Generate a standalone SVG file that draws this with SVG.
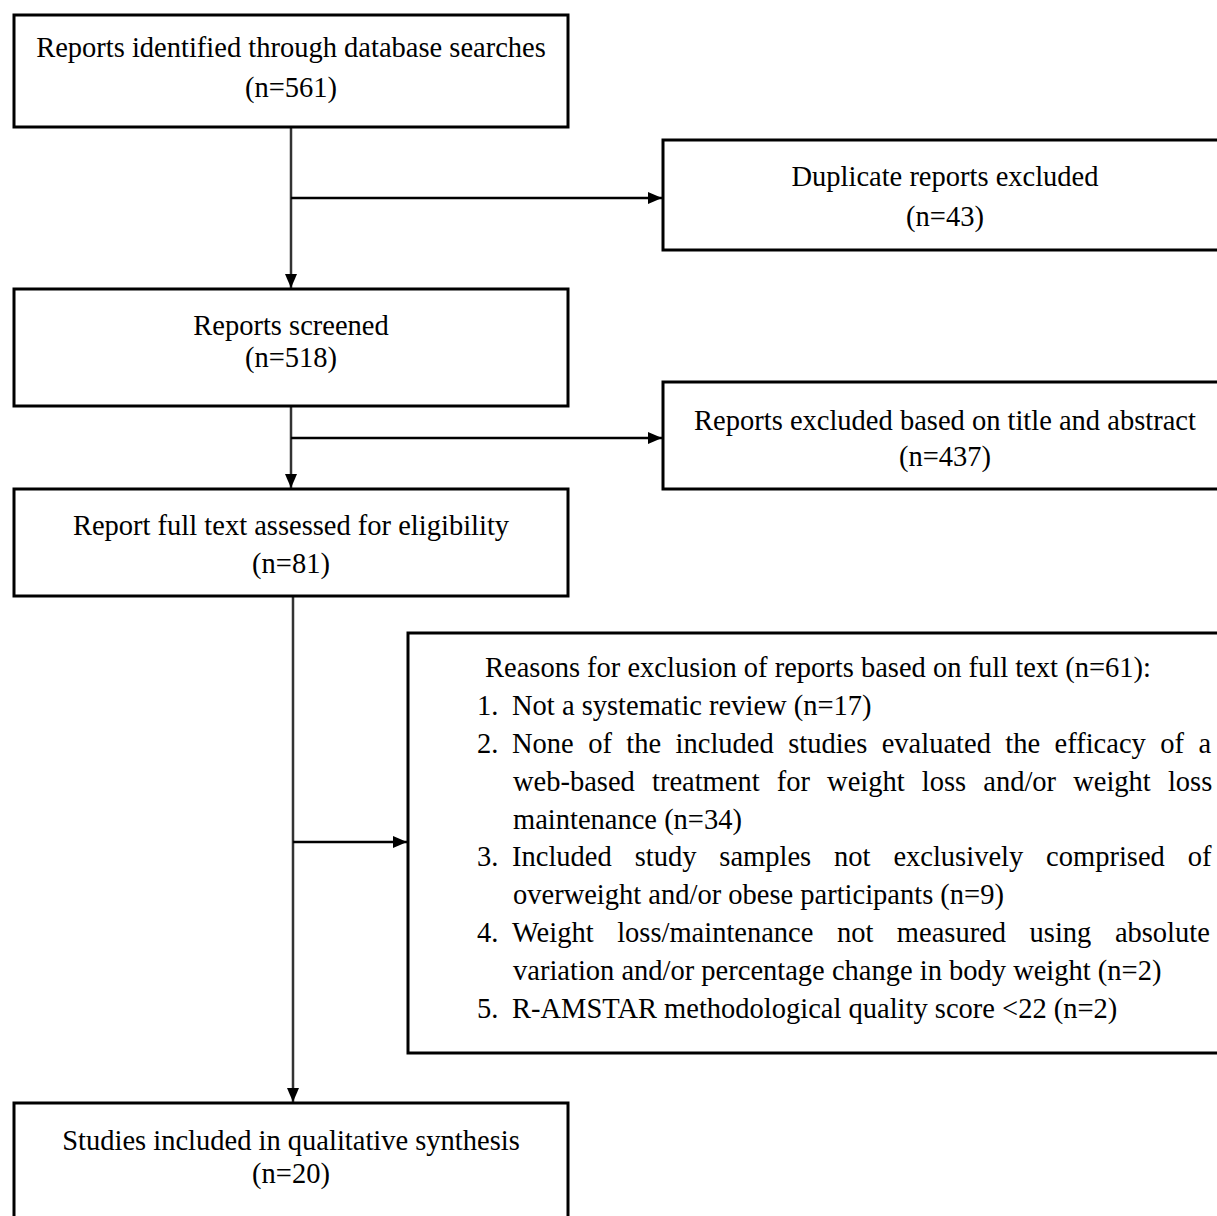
<svg xmlns="http://www.w3.org/2000/svg" width="1217" height="1216" viewBox="0 0 1217 1216">
<style>
  .box { fill: #ffffff; stroke: #000000; stroke-width: 3; }
  .t { font-family: "Liberation Serif", "Times New Roman", serif; font-size: 28.5px; fill: #000000; }
  .c { text-anchor: middle; }
  .trunk { stroke: #333333; stroke-width: 2.5; fill: none; }
  .branch { stroke: #000000; stroke-width: 2.5; fill: none; }
</style>
<defs>
  <marker id="arr" markerUnits="userSpaceOnUse" markerWidth="16" markerHeight="16" viewBox="0 0 16 16" refX="15" refY="8" orient="auto">
    <path d="M1,2 L15,8 L1,14 Z" fill="#000000"/>
  </marker>
</defs>
<rect width="1217" height="1216" fill="#ffffff"/>

<g id="connectors">
  <line class="trunk" x1="291" y1="127" x2="291" y2="288" marker-end="url(#arr)"/>
  <line class="branch" x1="291" y1="198" x2="662" y2="198" marker-end="url(#arr)"/>
  <line class="trunk" x1="291" y1="406" x2="291" y2="488" marker-end="url(#arr)"/>
  <line class="branch" x1="291" y1="438" x2="662" y2="438" marker-end="url(#arr)"/>
  <line class="trunk" x1="293" y1="596" x2="293" y2="1102" marker-end="url(#arr)"/>
  <line class="branch" x1="293" y1="842" x2="407" y2="842" marker-end="url(#arr)"/>
</g>

<g id="identified">
  <rect class="box" x="14" y="15" width="554" height="112"/>
  <text class="t c" x="291" y="57">Reports identified through database searches</text>
  <text class="t c" x="291" y="97">(n=561)</text>
</g>

<g id="duplicates">
  <rect class="box" x="663" y="140" width="570" height="110"/>
  <text class="t c" x="945" y="186">Duplicate reports excluded</text>
  <text class="t c" x="945" y="226">(n=43)</text>
</g>

<g id="screened">
  <rect class="box" x="14" y="289" width="554" height="117"/>
  <text class="t c" x="291" y="335">Reports screened</text>
  <text class="t c" x="291" y="367">(n=518)</text>
</g>

<g id="excluded-title">
  <rect class="box" x="663" y="382" width="570" height="107"/>
  <text class="t c" x="945" y="430">Reports excluded based on title and abstract</text>
  <text class="t c" x="945" y="466">(n=437)</text>
</g>

<g id="fulltext">
  <rect class="box" x="14" y="489" width="554" height="107"/>
  <text class="t c" x="291" y="535">Report full text assessed for eligibility</text>
  <text class="t c" x="291" y="573">(n=81)</text>
</g>

<g id="reasons">
  <rect class="box" x="408" y="633" width="825" height="420"/>
  <text class="t" x="485" y="677">Reasons for exclusion of reports based on full text (n=61):</text>
  <text class="t" x="477" y="715">1.</text>
  <text class="t" x="512" y="715">Not a systematic review (n=17)</text>
  <text class="t" x="477" y="753">2.</text>
  <text class="t" x="512" y="753" word-spacing="7.3">None of the included studies evaluated the efficacy of a</text>
  <text class="t" x="513" y="791" word-spacing="10">web-based treatment for weight loss and/or weight loss</text>
  <text class="t" x="513" y="829">maintenance (n=34)</text>
  <text class="t" x="477" y="866">3.</text>
  <text class="t" x="512" y="866" word-spacing="15.8">Included study samples not exclusively comprised of</text>
  <text class="t" x="513" y="904">overweight and/or obese participants (n=9)</text>
  <text class="t" x="477" y="942">4.</text>
  <text class="t" x="512" y="942" word-spacing="16.4">Weight loss/maintenance not measured using absolute</text>
  <text class="t" x="513" y="980">variation and/or percentage change in body weight (n=2)</text>
  <text class="t" x="477" y="1018">5.</text>
  <text class="t" x="512" y="1018">R-AMSTAR methodological quality score &lt;22 (n=2)</text>
</g>

<g id="included">
  <rect class="box" x="14" y="1103" width="554" height="130"/>
  <text class="t c" x="291" y="1150">Studies included in qualitative synthesis</text>
  <text class="t c" x="291" y="1183">(n=20)</text>
</g>
</svg>
